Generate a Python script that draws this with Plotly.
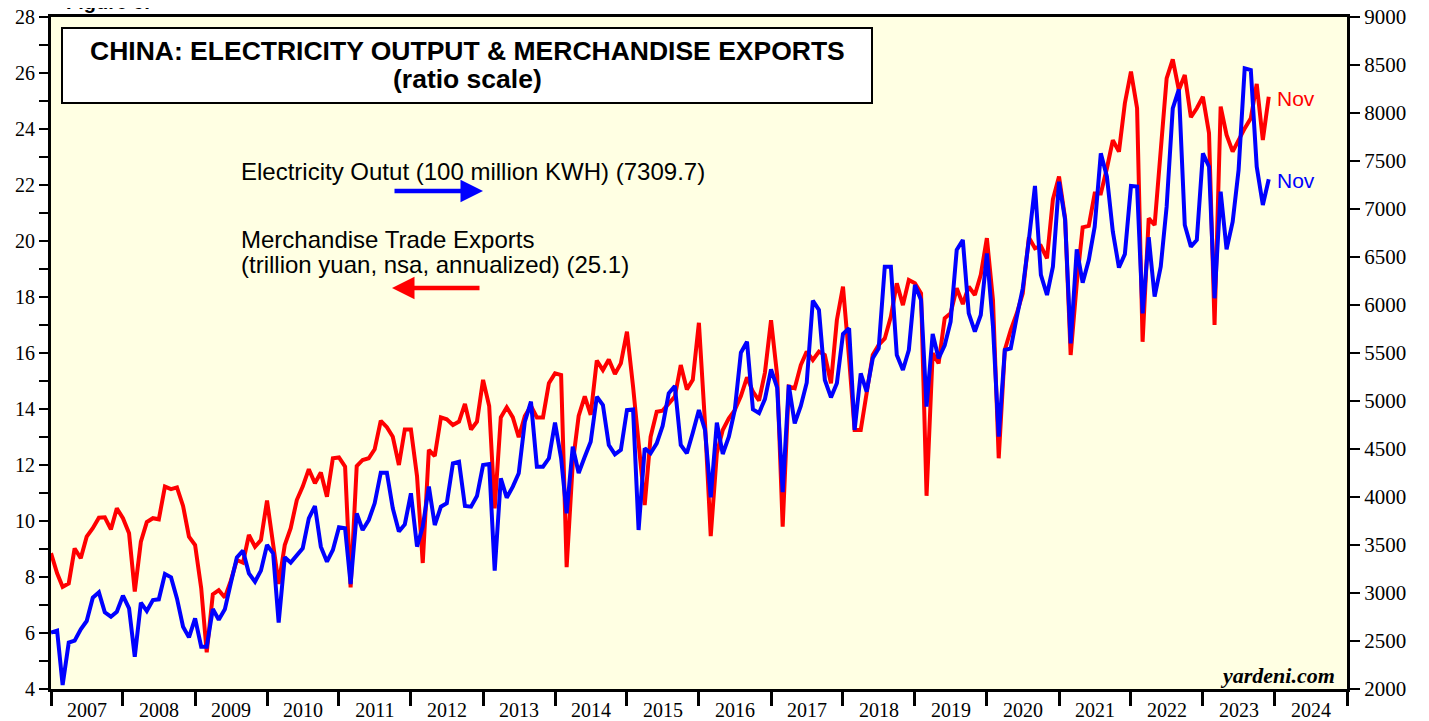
import pandas as pd
import plotly.graph_objects as go

# Monthly observations, Dec 2006 .. Nov 2023 (plotted at month end)
months = pd.period_range("2006-12", "2023-11", freq="M")

exports_tn_yuan = [
    8.85, 8.13, 7.65, 7.77, 9.02, 8.67, 9.44, 9.74, 10.12, 10.13, 9.70, 10.45,
    10.10, 9.56, 7.48, 9.26, 9.96, 10.10, 10.06, 11.23, 11.14, 11.20, 10.54, 9.44,
    9.14, 7.60, 5.31, 7.38, 7.53, 7.27, 7.86, 8.61, 8.51, 9.50, 9.08, 9.32,
    10.73, 9.08, 7.75, 9.14, 9.74, 10.75, 11.23, 11.85, 11.35, 11.73, 10.87, 12.24,
    12.27, 11.94, 7.63, 11.96, 12.18, 12.24, 12.56, 13.58, 13.35, 13.01, 12.00, 13.27,
    13.27, 11.60, 8.50, 12.54, 12.32, 13.70, 13.63, 13.43, 13.55, 14.18, 13.27, 13.55,
    15.04, 14.11, 10.45, 13.70, 14.06, 13.70, 12.99, 13.75, 14.11, 13.70, 13.70, 14.92,
    15.27, 15.21, 8.35, 12.06, 13.75, 14.45, 13.79, 15.73, 15.39, 15.77, 15.25, 15.63,
    16.76, 14.80, 12.80, 10.57, 13.01, 13.90, 13.94, 14.20, 14.44, 15.57, 14.70, 15.04,
    17.08, 13.49, 9.46, 12.42, 13.25, 13.67, 13.96, 14.46, 15.13, 14.62, 14.30, 15.30,
    17.17, 15.20, 9.80, 14.80, 14.74, 15.57, 16.05, 15.75, 16.05, 15.93, 14.92, 17.18,
    18.37, 15.80, 13.25, 13.25, 14.68, 15.93, 16.29, 16.52, 17.30, 18.49, 17.71, 18.61,
    18.49, 18.13, 10.90, 15.99, 15.63, 17.24, 17.42, 18.31, 17.75, 18.37, 18.07, 18.79,
    20.10, 17.89, 12.24, 16.11, 16.82, 17.42, 18.13, 20.13, 19.74, 19.82, 19.38, 21.49,
    22.30, 20.81, 15.93, 18.49, 20.49, 20.54, 21.70, 21.70, 22.60, 23.60, 23.19, 24.92,
    26.05, 24.74, 16.40, 20.81, 20.57, 23.20, 25.81, 26.49, 25.39, 25.93, 24.42, 24.74,
    25.15, 23.85, 17.00, 24.80, 23.79, 23.19, 23.61, 24.02, 24.38, 25.61, 23.61, 25.15,
]

electricity_100m_kwh = [
    2587, 2608, 2042, 2483, 2503, 2622, 2708, 2951, 3007, 2799, 2753, 2805,
    2972, 2840, 2337, 2899, 2812, 2927, 2934, 3198, 3163, 2944, 2649, 2538,
    2736, 2441, 2441, 2833, 2722, 2830, 3101, 3370, 3441, 3205, 3118, 3233,
    3500, 3413, 2691, 3372, 3316, 3385, 3465, 3778, 3906, 3483, 3326, 3448,
    3684, 3674, 3094, 3830, 3656, 3760, 3934, 4253, 4253, 3882, 3640, 3714,
    4038, 3483, 3691, 4108, 3708, 3899, 3934, 4351, 4368, 3906, 3899, 4010,
    4333, 4344, 3233, 4194, 3993, 4108, 4247, 4785, 4993, 4316, 4316, 4403,
    4774, 4403, 3830, 4524, 4250, 4420, 4576, 5045, 4958, 4542, 4444, 4490,
    4906, 4913, 3656, 4507, 4455, 4559, 4740, 5080, 5156, 4542, 4455, 4670,
    4906, 4698, 3997, 4774, 4448, 4628, 4906, 5503, 5618, 4913, 4875, 5020,
    5330, 5140, 4050, 5167, 4767, 4948, 5191, 6045, 5948, 5219, 5038, 5184,
    5698, 5757, 4698, 5288, 5097, 5445, 5549, 6399, 6399, 5479, 5323, 5531,
    6208, 6052, 4941, 5698, 5445, 5580, 5826, 6573, 6677, 5913, 5722, 5896,
    6538, 5774, 4628, 5531, 5549, 5878, 6174, 6677, 7240, 6313, 6104, 6399,
    7284, 6885, 5601, 6580, 6233, 6469, 6816, 7580, 7337, 6764, 6390, 6530,
    7240, 7233, 5913, 6705, 6087, 6399, 7024, 8049, 8247, 6833, 6608, 6677,
    7580, 7441, 6070, 7181, 6580, 6868, 7406, 8465, 8448, 7441, 7042, 7310,
]

left_ticks = list(range(4, 29, 2))
right_ticks = list(range(2000, 9001, 500))

x = months.to_timestamp(how="start") + pd.offsets.MonthBegin(1)

RED = "#ff0000"
BLUE = "#0000ff"
SERIF = "Liberation Serif"
SANS = "Liberation Sans"

fig = go.Figure()
fig.add_trace(go.Scatter(x=x, y=exports_tn_yuan, mode="lines",
                         line=dict(color=RED, width=4), yaxis="y", showlegend=False))
fig.add_trace(go.Scatter(x=x, y=electricity_100m_kwh, mode="lines",
                         line=dict(color=BLUE, width=4), yaxis="y2", showlegend=False))

# page layout (the html body adds an 8 px offset)
W, H = 1429, 721
OFF = 8
X0, X1, Y0, Y1 = 51, 1347, 17, 689          # plot area in page pixels
L, R = X0 - OFF, W - (X1 - OFF)
T, B = Y0 - OFF, H - (Y1 - OFF)
pw, ph = X1 - X0, Y1 - Y0

def px(xp):
    return (xp - X0) / pw

def py(yp):
    return (Y1 - yp) / ph

fig.update_layout(
    width=W, height=H,
    margin=dict(l=L, r=R, t=T, b=B, autoexpand=False),
    paper_bgcolor="white",
    plot_bgcolor="#ffffe3",
    xaxis=dict(
        type="date", automargin=False,
        range=["2007-01-01", "2025-01-01"],
        tick0="2007-01-01", dtick="M12", tickformat="%Y",
        ticklabelmode="period", ticklabelstandoff=-13,
        ticks="outside", ticklen=14, tickwidth=2.5, tickcolor="black",
        showline=True, linewidth=3, linecolor="black", mirror=True,
        showgrid=False, zeroline=False,
        tickfont=dict(family=SERIF, size=20, color="black"),
    ),
    yaxis=dict(
        range=[4, 28], tickvals=left_ticks, automargin=False,
        ticklabeloverflow="allow",
        ticks="outside", ticklen=9, tickwidth=1.5, tickcolor="black",
        minor=dict(dtick=1, ticks="outside", ticklen=9, tickwidth=1.5, tickcolor="black", showgrid=False),
        showline=True, linewidth=3, linecolor="black",
        showgrid=False, zeroline=False,
        tickfont=dict(family=SERIF, size=20, color="black"),
    ),
    yaxis2=dict(
        range=[2000, 9000], tickvals=right_ticks, overlaying="y", side="right", automargin=False,
        ticklabeloverflow="allow",
        ticks="outside", ticklen=10, tickwidth=1.5, tickcolor="black",
        showline=True, linewidth=3, linecolor="black",
        showgrid=False, zeroline=False,
        tickfont=dict(family=SERIF, size=21, color="black"),
    ),
)

# Title box
fig.add_shape(type="rect", xref="paper", yref="paper",
              x0=px(62), x1=px(872), y0=py(103), y1=py(28),
              fillcolor="white", line=dict(color="black", width=2))

ann = []
ann.append(dict(text="<b>CHINA: ELECTRICITY OUTPUT &amp; MERCHANDISE EXPORTS</b>",
                x=px(467), y=py(51), font=dict(family=SANS, size=26.5, color="black")))
ann.append(dict(text="<b>(ratio scale)</b>",
                x=px(467), y=py(79), font=dict(family=SANS, size=26.5, color="black")))
ann.append(dict(text="<b>Figure 6:</b>", x=px(64), y=py(15), xanchor="left", yanchor="bottom",
                font=dict(family=SANS, size=20, color="black")))
ann.append(dict(text="Electricity Outut (100 million KWH) (7309.7)",
                x=px(239), y=py(172), xanchor="left", font=dict(family=SANS, size=24, color="black")))
ann.append(dict(text="Merchandise Trade Exports",
                x=px(239), y=py(239), xanchor="left", font=dict(family=SANS, size=24, color="black")))
ann.append(dict(text="(trillion yuan, nsa, annualized) (25.1)",
                x=px(239), y=py(264), xanchor="left", font=dict(family=SANS, size=24, color="black")))
ann.append(dict(text="Nov", x=px(1275), y=py(98), xanchor="left",
                font=dict(family=SANS, size=21, color=RED)))
ann.append(dict(text="Nov", x=px(1275), y=py(180), xanchor="left",
                font=dict(family=SANS, size=21, color=BLUE)))
ann.append(dict(text="<b><i>yardeni.com</i></b>", x=px(1337), y=py(675), xanchor="right",
                font=dict(family=SERIF, size=22, color="black")))
for a in ann:
    a.setdefault("xanchor", "center")
    a.setdefault("yanchor", "middle")
    fig.add_annotation(xref="paper", yref="paper", showarrow=False, **a)

# Legend arrows
fig.add_annotation(xref="paper", yref="paper", x=px(483), y=py(191), text="",
                   showarrow=True, ax=-90, ay=0, arrowhead=2, arrowsize=1,
                   arrowwidth=4.5, arrowcolor=BLUE)
fig.add_annotation(xref="paper", yref="paper", x=px(392), y=py(288), text="",
                   showarrow=True, ax=89, ay=0, arrowhead=2, arrowsize=1,
                   arrowwidth=4.5, arrowcolor=RED)

fig.write_html("out.html")
